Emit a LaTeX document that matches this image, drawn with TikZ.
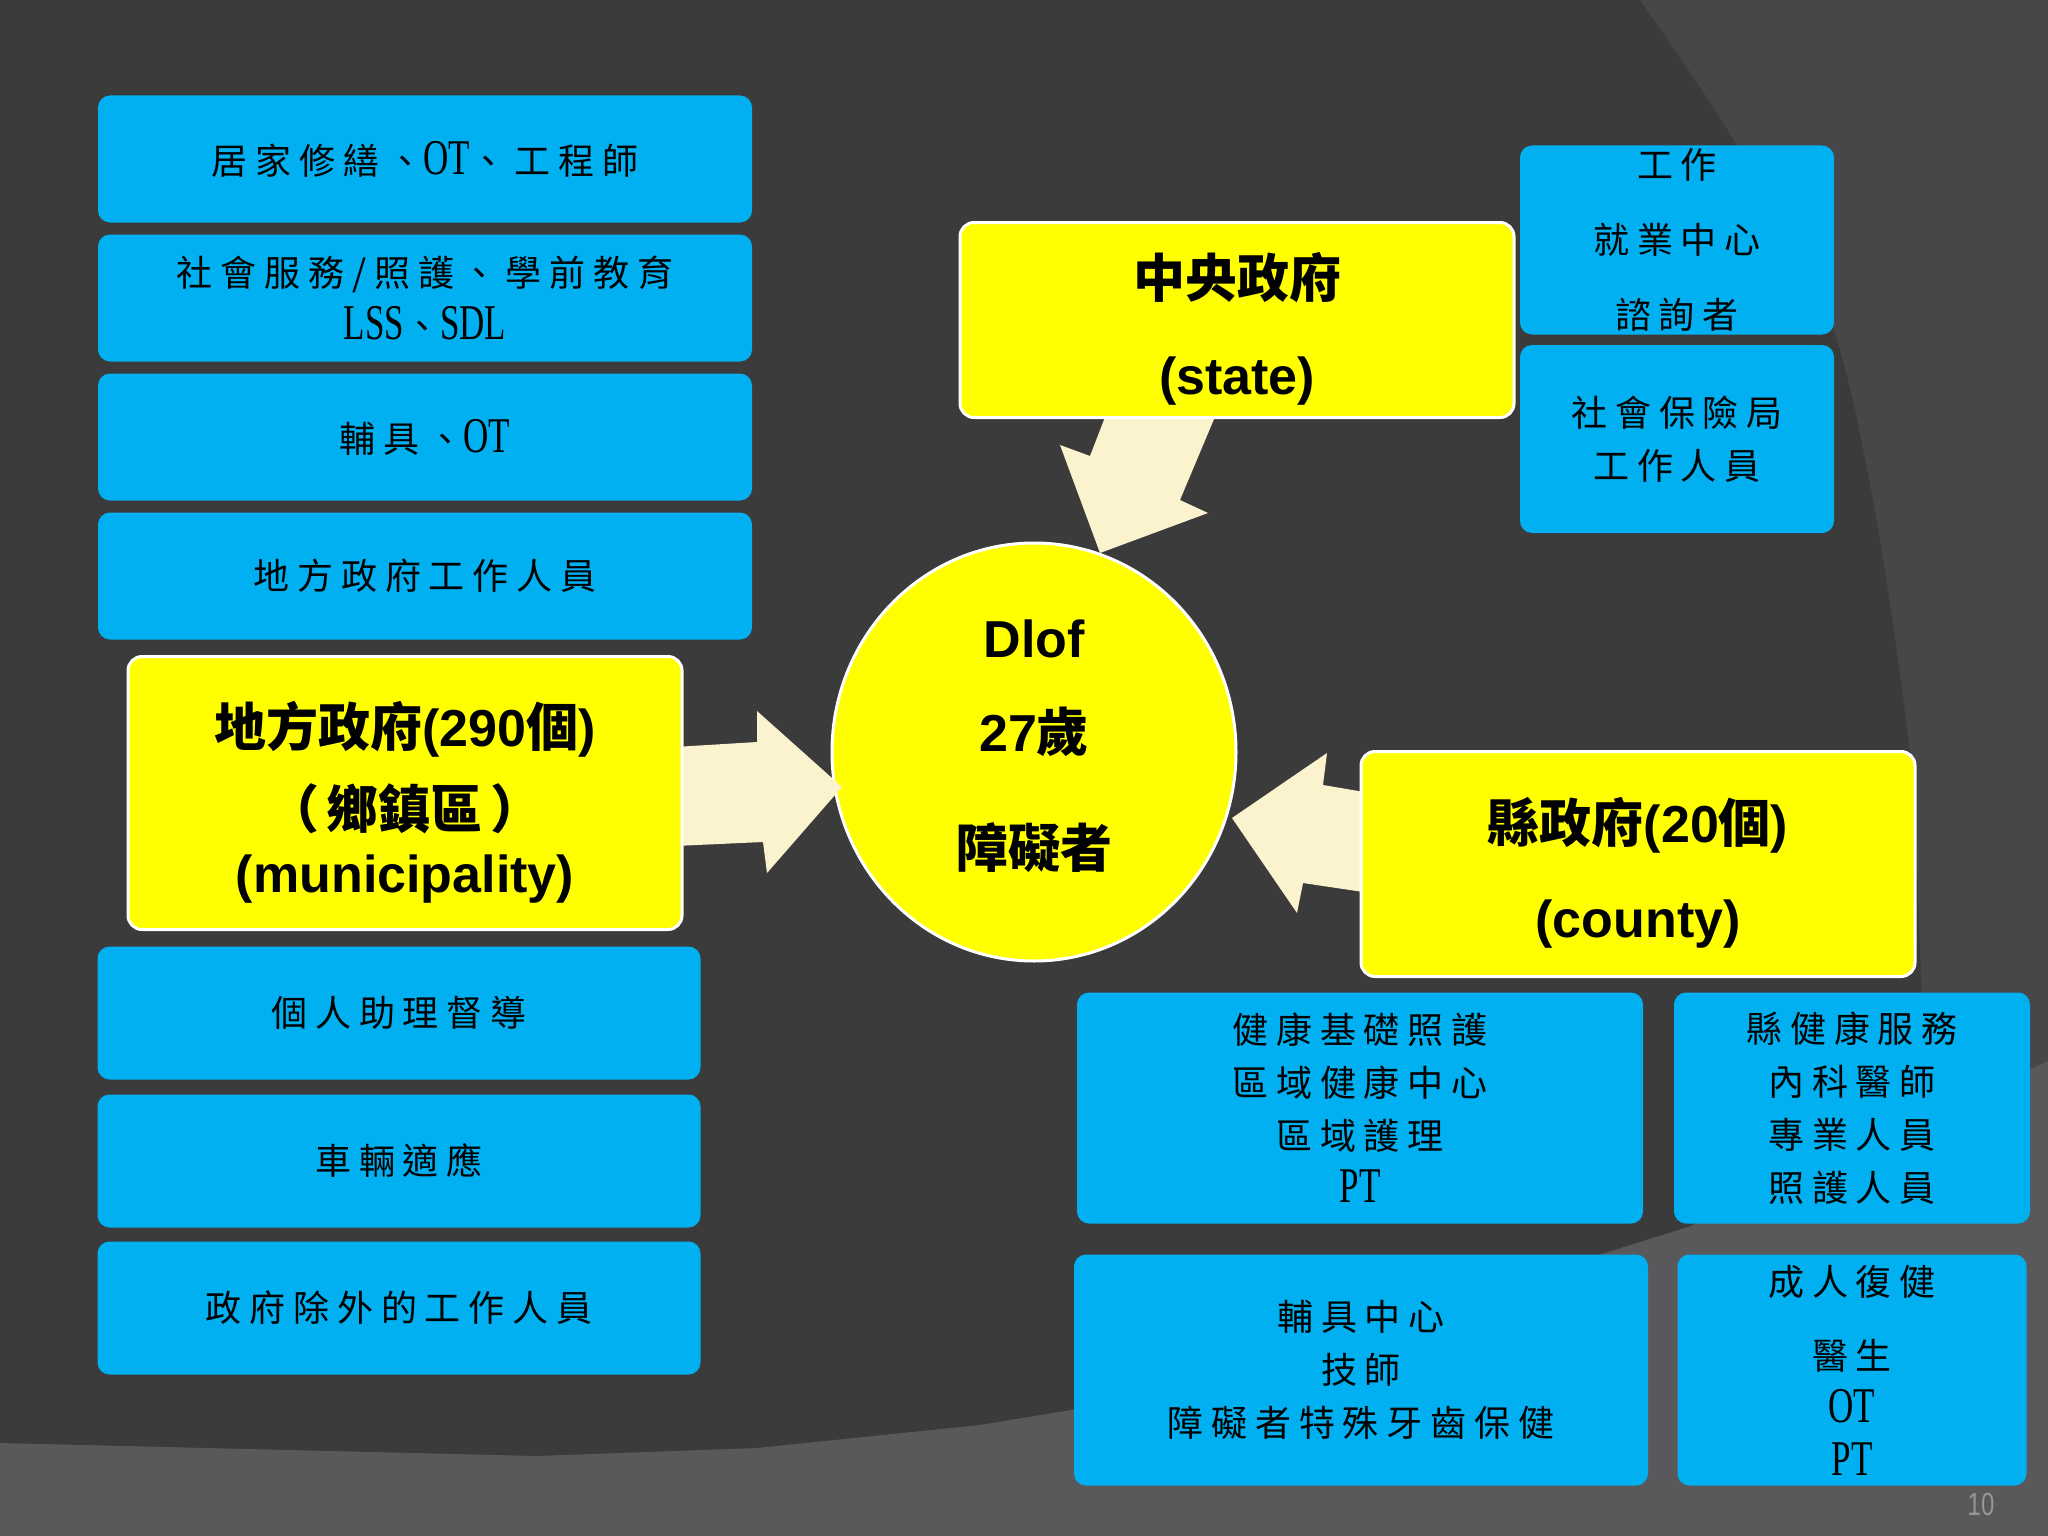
\documentclass[tikz,border=0pt]{standalone}
\usepackage{fontspec}
\usetikzlibrary{shapes.geometric}
\setmainfont{Liberation Sans}
\newfontfamily\cjk{Noto Sans CJK TC}
\newfontfamily\cjksp[LetterSpace=22]{Noto Sans CJK TC}
\newfontfamily\latf[FakeStretch=0.7]{Liberation Serif}
\newfontfamily\pgnum[FakeStretch=0.75]{Liberation Sans}
\newcommand\lat[1]{{\latf\fontsize{50}{53}\selectfont #1}}
\newcommand\toppush[1]{\rule{0pt}{#1}}
\newcommand\botpush[1]{\rule[-#1]{0pt}{0pt}}
\definecolor{bgdark}{RGB}{59,59,60}
\definecolor{bgmid}{RGB}{71,70,72}
\definecolor{bglow}{RGB}{89,88,90}
\definecolor{bblue}{RGB}{0,176,240}
\definecolor{cream}{RGB}{250,243,205}
\definecolor{yel}{RGB}{255,255,0}
\definecolor{pgray}{RGB}{150,150,150}
\begin{document}
\begin{tikzpicture}[x=1pt,y=-1pt,
  bluebox/.style={fill=bblue, rounded corners=12pt, inner sep=0pt, align=center,
    text=black, font=\cjksp\fontsize{36}{53}\selectfont},
  yelbox/.style={fill=yel, draw=white, line width=3pt, rounded corners=14pt,
    inner sep=0pt, align=center, text=black, font=\bfseries\fontsize{52}{97}\selectfont},
  blockarrow/.style={fill=cream}]
\useasboundingbox (0,0) rectangle (2048,1536);
% background
\fill[bgdark] (0,0) rectangle (2048,1536);
\fill[bgmid] plot[smooth] coordinates {(1640,0) (1727,129) (1825,304) (1873,500) (1910,755) (1920,950) (1928,1200)}
  -- (2048,1200) -- (2048,0) -- cycle;
\fill[bglow] (0,1443) -- (536,1456) -- (757,1448) -- (980,1425) -- (1071,1410)
  -- (1608,1252) -- (1688,1227) -- (2048,1061) -- (2048,1536) -- (0,1536) -- cycle;

% centre
\node[ellipse, fill=yel, draw=white, line width=3pt, minimum width=404pt, minimum height=418pt,
  inner sep=0pt, align=center, font=\bfseries\fontsize{52}{94}\selectfont] (dlof) at (1034,752)
  {Dlof\\27{\cjk 歲}\\[22pt]{\cjk 障礙者}\botpush{16pt}};

% block arrows
\fill[blockarrow] (675,747) -- (757,742) -- (757,711) -- (842,787) -- (767,873) -- (763,842) -- (675,846) -- cycle;
\fill[blockarrow] (1370,793) -- (1323,785) -- (1327,753) -- (1232,818) -- (1297,913) -- (1303,883) -- (1370,893) -- cycle;
\fill[blockarrow] (1107,412) -- (1217,412) -- (1180,500) -- (1208,513) -- (1100,553) -- (1060,445) -- (1090,456) -- cycle;

% yellow boxes
\node[yelbox, minimum width=554pt, minimum height=195pt] (state) at (1237,320)
  {\toppush{62pt}{\cjk 中央政府}\\(state)};
\node[yelbox, minimum width=554pt, minimum height=273pt, font=\bfseries\fontsize{52}{64}\selectfont] (muni) at (405,793)
  {\toppush{64pt}{\cjk 地方政府}(290{\cjk 個})\\[18pt]{\cjk （\hspace{8pt}鄉鎮區\hspace{8pt}）}\\(municipality)};
\node[yelbox, minimum width=554pt, minimum height=225pt, font=\bfseries\fontsize{52}{95}\selectfont] (county) at (1638,864)
  {\toppush{62pt}{\cjk 縣政府}(20{\cjk 個})\\(county)};

% left blue boxes (top)
\node[bluebox, minimum width=654pt, minimum height=127pt] (b1) at (425,159) {居家修繕、\lat{OT}、工程師};
\node[bluebox, minimum width=654pt, minimum height=127pt] (b2) at (425,298) {社會服務/照護、學前教育\\\lat{LSS}、\lat{SDL}};
\node[bluebox, minimum width=654pt, minimum height=127pt] (b3) at (425,437) {輔具、\lat{OT}};
\node[bluebox, minimum width=654pt, minimum height=127pt] (b4) at (425,576) {地方政府工作人員};
% left blue boxes (bottom)
\node[bluebox, minimum width=603pt, minimum height=133pt] (b5) at (399,1013) {個人助理督導};
\node[bluebox, minimum width=603pt, minimum height=133pt] (b6) at (399,1161) {車輛適應};
\node[bluebox, minimum width=603pt, minimum height=133pt] (b7) at (399,1308) {政府除外的工作人員};
% top right
\node[bluebox, minimum width=314pt, minimum height=189pt] (tr1) at (1677,240) {工作\\[22pt]就業中心\\[22pt]諮詢者};
\node[bluebox, minimum width=314pt, minimum height=188pt] (tr2) at (1677,439) {社會保險局\\工作人員};
% bottom right
\node[bluebox, minimum width=566pt, minimum height=231pt] (ba) at (1360,1108) {健康基礎照護\\區域健康中心\\區域護理\\\lat{PT}};
\node[bluebox, minimum width=356pt, minimum height=231pt] (bb) at (1852,1108) {縣健康服務\\內科醫師\\專業人員\\照護人員};
\node[bluebox, minimum width=574pt, minimum height=231pt] (bc) at (1361,1370) {輔具中心\\技師\\障礙者特殊牙齒保健};
\node[bluebox, minimum width=349pt, minimum height=231pt] (bd) at (1852,1370) {成人復健\\[21pt]醫生\\\lat{OT}\\\lat{PT}};

% page number
\node[text=pgray, font=\pgnum\fontsize{32}{34}\selectfont, inner sep=0pt] (pg) at (1981,1504) {10};
\end{tikzpicture}
\end{document}
